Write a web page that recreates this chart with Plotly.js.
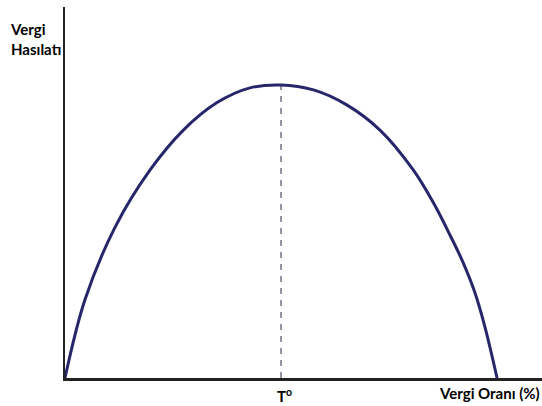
<!DOCTYPE html>
<html>
<head>
<meta charset="utf-8">
<script src="https://cdn.plot.ly/plotly-3.0.1.min.js"></script>
<style>
  body { margin: 0; background: #fff; }
  #chart { width: 542px; height: 406px; }
</style>
</head>
<body>
<div id="chart"></div>
<script>
// tax rate (0-100) and revenue (peak = 100)
const rate = [0, 4.6, 11.6, 19.7, 27.4, 35.1, 42.8, 50, 57.5, 65.2, 72.9, 80.6, 85.3, 89.1, 92.2, 94.9, 97.2, 100];
const revenue = [0, 26.6, 51.5, 71.0, 84.6, 93.9, 99.0, 100, 98.3, 93.2, 84.6, 71.0, 59.7, 48.8, 39.2, 29.0, 17.4, 0];

const peakRate = [50, 50];
const peakLine = [0, 100];

const curve = {
  x: rate,
  y: revenue,
  type: 'scatter',
  mode: 'lines',
  line: { color: '#26266a', width: 3, shape: 'spline', smoothing: 1 },
  hoverinfo: 'skip'
};

const dashed = {
  x: peakRate,
  y: peakLine,
  type: 'scatter',
  mode: 'lines',
  line: { color: '#707085', width: 1.5, dash: '6px,6px' },
  hoverinfo: 'skip'
};

const labelFont = { family: 'Lato, "Open Sans", sans-serif', size: 15, color: '#000' };

const layout = {
  width: 542,
  height: 406,
  margin: { l: 65, r: 0, t: 7, b: 28 },
  paper_bgcolor: '#fff',
  plot_bgcolor: '#fff',
  showlegend: false,
  xaxis: {
    range: [0, 110.4],
    showgrid: false,
    zeroline: false,
    showticklabels: false,
    ticks: '',
    showline: true,
    linecolor: '#222',
    linewidth: 2.5
  },
  yaxis: {
    range: [0, 126.6],
    showgrid: false,
    zeroline: false,
    showticklabels: false,
    ticks: '',
    showline: true,
    linecolor: '#222',
    linewidth: 2.5
  },
  annotations: [
    {
      text: '<b>Vergi<br>Hasılatı</b>',
      xref: 'paper', yref: 'paper',
      x: -0.1195, y: 0.914,
      xanchor: 'left', yanchor: 'middle',
      align: 'left',
      showarrow: false,
      font: labelFont
    },
    {
      text: '<b>T<sup>o</sup></b>',
      xref: 'x', yref: 'paper',
      x: 50, y: -0.048,
      xshift: 3,
      xanchor: 'center', yanchor: 'middle',
      showarrow: false,
      font: labelFont
    },
    {
      text: '<b>Vergi Oranı (%)</b>',
      xref: 'paper', yref: 'paper',
      x: 1, y: -0.040,
      xanchor: 'right', yanchor: 'middle',
      showarrow: false,
      font: labelFont
    }
  ]
};

Plotly.newPlot('chart', [dashed, curve], layout, { displayModeBar: false, staticPlot: true });
</script>
</body>
</html>
